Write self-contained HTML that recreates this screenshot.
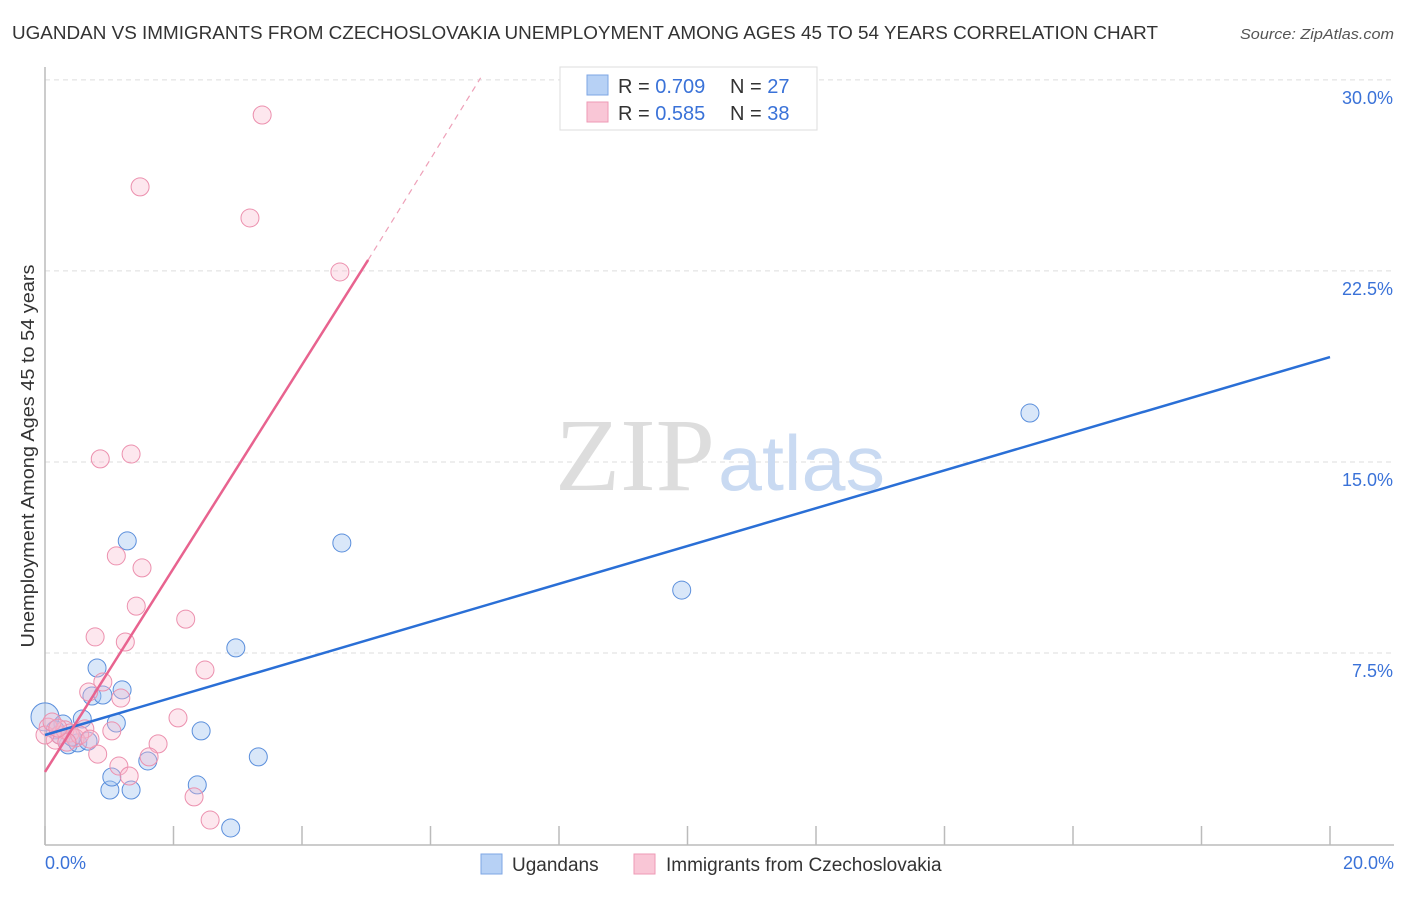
<!DOCTYPE html>
<html><head><meta charset="utf-8"><style>
body{margin:0;background:#fff;font-family:"Liberation Sans",sans-serif;}
</style></head><body>
<svg id="chart" width="1406" height="892" xmlns="http://www.w3.org/2000/svg">
<text x="12" y="39" font-size="18" fill="#333" textLength="1146" lengthAdjust="spacingAndGlyphs">UGANDAN VS IMMIGRANTS FROM CZECHOSLOVAKIA UNEMPLOYMENT AMONG AGES 45 TO 54 YEARS CORRELATION CHART</text>
<text x="1240" y="39" font-size="15" fill="#555" font-style="italic" textLength="154" lengthAdjust="spacingAndGlyphs">Source: ZipAtlas.com</text>
<g id="grid"></g>
<text x="555" y="490" font-size="104" font-family="Liberation Serif,serif" fill="#ddd" textLength="160" lengthAdjust="spacingAndGlyphs">ZIP</text>
<text x="718" y="490" font-size="78" fill="#c9daf2" textLength="167" lengthAdjust="spacingAndGlyphs">atlas</text>
<line x1="45" y1="67" x2="45" y2="845" stroke="#bbb" stroke-width="1.5"/>
<line x1="45" y1="845" x2="1394" y2="845" stroke="#bbb" stroke-width="1.5"/>
<g id="ticks"></g>
<g id="points"></g>
<g id="lines"></g>
<text transform="translate(34,456) rotate(-90)" font-size="18" fill="#333" text-anchor="middle" textLength="383" lengthAdjust="spacingAndGlyphs">Unemployment Among Ages 45 to 54 years</text>
<text x="45" y="869" font-size="18" fill="#3a72d8">0.0%</text>
<text x="1394" y="869" font-size="18" fill="#3a72d8" text-anchor="end">20.0%</text>
<g>
<rect x="560" y="67" width="257" height="63" fill="#fff" stroke="#ddd"/>
<rect x="587" y="75" width="21" height="20" fill="#b7d1f5" stroke="#7ea6e4"/>
<rect x="587" y="102" width="21" height="20" fill="#f9c6d6" stroke="#ee9ab5"/>
<text x="618" y="93" font-size="20" fill="#333">R = <tspan fill="#3a72d8">0.709</tspan><tspan x="730">N = </tspan><tspan fill="#3a72d8">27</tspan></text>
<text x="618" y="120" font-size="20" fill="#333">R = <tspan fill="#3a72d8">0.585</tspan><tspan x="730">N = </tspan><tspan fill="#3a72d8">38</tspan></text>
</g>
<g>
<rect x="481" y="854" width="21" height="20" fill="#b7d1f5" stroke="#7ea6e4"/>
<text x="512" y="871" font-size="19" fill="#333">Ugandans</text>
<rect x="634" y="854" width="21" height="20" fill="#f9c6d6" stroke="#ee9ab5"/>
<text x="666" y="871" font-size="19" fill="#333">Immigrants from Czechoslovakia</text>
</g>
</svg>
<script>
const yTicks=[7.5,15,22.5,30];
const yTickLabels=["7.5%","15.0%","22.5%","30.0%"];
const xTicks=[0,2,4,6,8,10,12,14,16,18,20];
const blueX=[0,0.28,0.58,0.81,0.73,0.90,1.20,1.11,1.28,0.36,0.51,0.67,1.01,1.04,1.34,1.60,2.37,2.43,2.89,2.97,3.32,4.62,9.91,15.33,0.16,0.42,0.23];
const blueY=[4.99,4.71,4.91,6.91,5.81,5.85,6.05,4.75,11.90,3.89,3.97,4.04,2.12,2.63,2.12,3.26,2.32,4.44,0.63,7.70,3.42,11.82,9.97,16.92,4.48,4.20,4.28];
const pinkX=[3.38,1.48,3.19,4.59,0.86,1.34,1.11,1.51,1.42,2.19,0.78,1.25,2.49,0.90,0.68,1.18,2.07,1.04,0.62,1.76,0.82,1.62,1.15,1.31,2.32,2.57,0.05,0.16,0.23,0.31,0.39,0.47,0.54,0,0.11,0.34,0.20,0.70];
const pinkY=[28.62,25.80,24.58,22.46,15.12,15.31,11.31,10.84,9.34,8.83,8.13,7.93,6.83,6.36,5.97,5.73,4.95,4.44,4.52,3.93,3.53,3.42,3.06,2.67,1.85,0.94,4.59,4.08,4.28,4.48,4.36,4.16,4.28,4.28,4.79,4.00,4.55,4.12];
const blueTrend=[0,4.28,20,19.12];
const pinkTrend=[0,2.83,5.03,22.93,6.78,30.08];
const NS="http://www.w3.org/2000/svg";
const sx=v=>45+v*64.25, sy=v=>844-v*25.47;
function mk(tag,attrs,parent){const e=document.createElementNS(NS,tag);for(const k in attrs)e.setAttribute(k,attrs[k]);document.getElementById(parent).appendChild(e);return e;}
yTicks.forEach((t,i)=>{
 const g=mk('line',{x1:45,x2:1394,y1:sy(t),y2:sy(t),stroke:'#ddd','stroke-dasharray':'5,4'},'grid');
 
 
 const l=mk('text',{x:1393,y:sy(t)+24,'font-size':18,fill:'#3a72d8','text-anchor':'end'},'grid');
 l.textContent=yTickLabels[i];
 
 
});
xTicks.forEach(t=>{
 const tk=mk('line',{x1:sx(t),x2:sx(t),y1:826,y2:845,stroke:'#bbb','stroke-width':1.5},'ticks');
 
 
});
blueX.forEach((x,i)=>{
 const c=mk('circle',{cx:sx(x),cy:sy(blueY[i]),r:i===0?14:9,fill:'rgba(160,195,240,0.4)',stroke:'#5b8fdc','stroke-width':1},'points');
 
 
});
pinkX.forEach((x,i)=>{
 const c=mk('circle',{cx:sx(x),cy:sy(pinkY[i]),r:9,fill:'rgba(248,185,205,0.35)',stroke:'#ec90ae','stroke-width':1},'points');
 
 
});
const bl=mk('line',{x1:sx(blueTrend[0]),y1:sy(blueTrend[1]),x2:sx(blueTrend[2]),y2:sy(blueTrend[3]),stroke:'#2a6fd6','stroke-width':2.5},'lines');


const pl=mk('line',{x1:sx(pinkTrend[0]),y1:sy(pinkTrend[1]),x2:sx(pinkTrend[2]),y2:sy(pinkTrend[3]),stroke:'#e8638f','stroke-width':2.5},'lines');


const pd=mk('line',{x1:sx(pinkTrend[2]),y1:sy(pinkTrend[3]),x2:sx(pinkTrend[4]),y2:sy(pinkTrend[5]),stroke:'#eea0b8','stroke-width':1.2,'stroke-dasharray':'6,5'},'lines');


</script>
</body></html>
